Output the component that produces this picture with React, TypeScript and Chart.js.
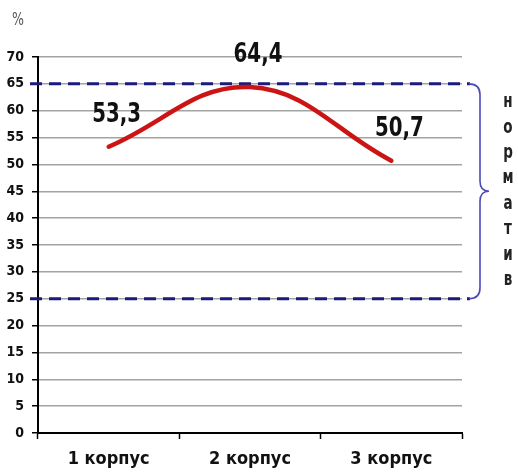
import React, { useEffect, useRef } from "react";
import { Chart, registerables } from "chart.js";

Chart.register(...registerables);

const categories: string[] = ["1 корпус", "2 корпус", "3 корпус"];
const values: number[] = [53.3, 64.4, 50.7];
const valueLabels: string[] = ["53,3", "64,4", "50,7"];
const normBounds: number[] = [25, 65];
const normWord: string = "норматив";
const unitLabel: string = "%";
const yMin = 0;
const yMax = 70;
const yStep = 5;

const NARROW = '"Liberation Sans Narrow", "DejaVu Sans Condensed", "Liberation Sans", sans-serif';

function tallText(ctx: CanvasRenderingContext2D, text: string, x: number, y: number, sy: number) {
  ctx.save();
  ctx.translate(x, y);
  ctx.scale(1, sy);
  ctx.fillText(text, 0, 0);
  ctx.restore();
}

const overlayPlugin = {
  id: "overlay",
  beforeDatasetsDraw(chart: any) {
    const { ctx, chartArea, scales } = chart;
    const y = scales.y;
    ctx.save();
    ctx.strokeStyle = "#1b1b7c";
    ctx.lineWidth = 3;
    ctx.setLineDash([12, 7]);
    normBounds.forEach((v) => {
      const py = y.getPixelForValue(v);
      ctx.beginPath();
      ctx.moveTo(chartArea.left - 8, py);
      ctx.lineTo(chartArea.right + 8, py);
      ctx.stroke();
    });
    ctx.restore();
  },
  afterDatasetsDraw(chart: any) {
    const { ctx, chartArea, scales } = chart;
    const y = scales.y;
    const meta = chart.getDatasetMeta(0);
    ctx.save();
    // value labels
    ctx.fillStyle = "#111";
    ctx.font = `bold 22px ${NARROW}`;
    ctx.textAlign = "center";
    ctx.textBaseline = "middle";
    meta.data.forEach((pt: any, i: number) => {
      tallText(ctx, valueLabels[i], pt.x + 8, pt.y - 32, 1.2);
    });
    // brace
    const yTop = y.getPixelForValue(Math.max(...normBounds));
    const yBot = y.getPixelForValue(Math.min(...normBounds));
    const yMid = (yTop + yBot) / 2;
    const x0 = chartArea.right + 7;
    const x1 = x0 + 11;
    const x2 = x1 + 9;
    ctx.strokeStyle = "#4b4bb8";
    ctx.lineWidth = 1.6;
    ctx.setLineDash([]);
    ctx.beginPath();
    ctx.moveTo(x0, yTop);
    ctx.quadraticCurveTo(x1, yTop, x1, yTop + 11);
    ctx.lineTo(x1, yMid - 10);
    ctx.quadraticCurveTo(x1, yMid, x2, yMid);
    ctx.quadraticCurveTo(x1, yMid, x1, yMid + 10);
    ctx.lineTo(x1, yBot - 11);
    ctx.quadraticCurveTo(x1, yBot, x0, yBot);
    ctx.stroke();
    // vertical word
    ctx.fillStyle = "#222";
    ctx.font = `bold 15px ${NARROW}`;
    const letters = Array.from(normWord);
    const step = 25.4;
    const start = yMid - (step * (letters.length - 1)) / 2;
    letters.forEach((ch, i) => {
      tallText(ctx, ch, 508, start + i * step, 1.25);
    });
    // unit label
    ctx.fillStyle = "#555";
    ctx.font = `14px ${NARROW}`;
    tallText(ctx, unitLabel, 18, 21, 1.2);
    ctx.restore();
  },
};

export default function App() {
  const ref = useRef<HTMLCanvasElement | null>(null);
  useEffect(() => {
    if (!ref.current) return;
    const chart = new Chart(ref.current, {
      type: "line",
      data: {
        labels: categories,
        datasets: [
          {
            data: values,
            borderColor: "#cc1414",
            borderWidth: 4.5,
            borderCapStyle: "round",
            tension: 0.4,
            pointRadius: 0,
            fill: false,
          },
        ],
      },
      options: {
        animation: false,
        responsive: false,
        layout: { padding: { top: 57, right: 56, left: 0, bottom: 0 } },
        plugins: {
          legend: { display: false },
          tooltip: { enabled: false },
        },
        scales: {
          x: {
            type: "category",
            offset: true,
            afterFit: (s: any) => {
              s.height = 41;
            },
            grid: {
              offset: true,
              drawOnChartArea: false,
              drawTicks: true,
              tickLength: 6,
              tickColor: "#000",
              tickWidth: 1.5,
            },
            border: { color: "#000", width: 2 },
            ticks: {
              color: "#111",
              padding: 10,
              font: { family: NARROW, size: 18, weight: "bold" },
            },
          },
          y: {
            min: yMin,
            max: yMax,
            afterFit: (s: any) => {
              s.width = 38;
            },
            grid: {
              color: "#a3a3a3",
              lineWidth: 1.5,
              drawTicks: true,
              tickLength: 6,
              tickColor: "#000",
              tickWidth: 1.5,
            },
            border: { color: "#000", width: 2 },
            ticks: {
              stepSize: yStep,
              color: "#111",
              padding: 8,
              font: { family: NARROW, size: 14, weight: "bold" },
            },
          },
        },
      },
      plugins: [overlayPlugin],
    });
    return () => chart.destroy();
  }, []);
  return (
    <div style={{ position: "fixed", left: 0, top: 0, width: 518, height: 474, background: "#fff" }}>
      <canvas ref={ref} width={518} height={474} style={{ width: 518, height: 474 }} />
    </div>
  );
}
